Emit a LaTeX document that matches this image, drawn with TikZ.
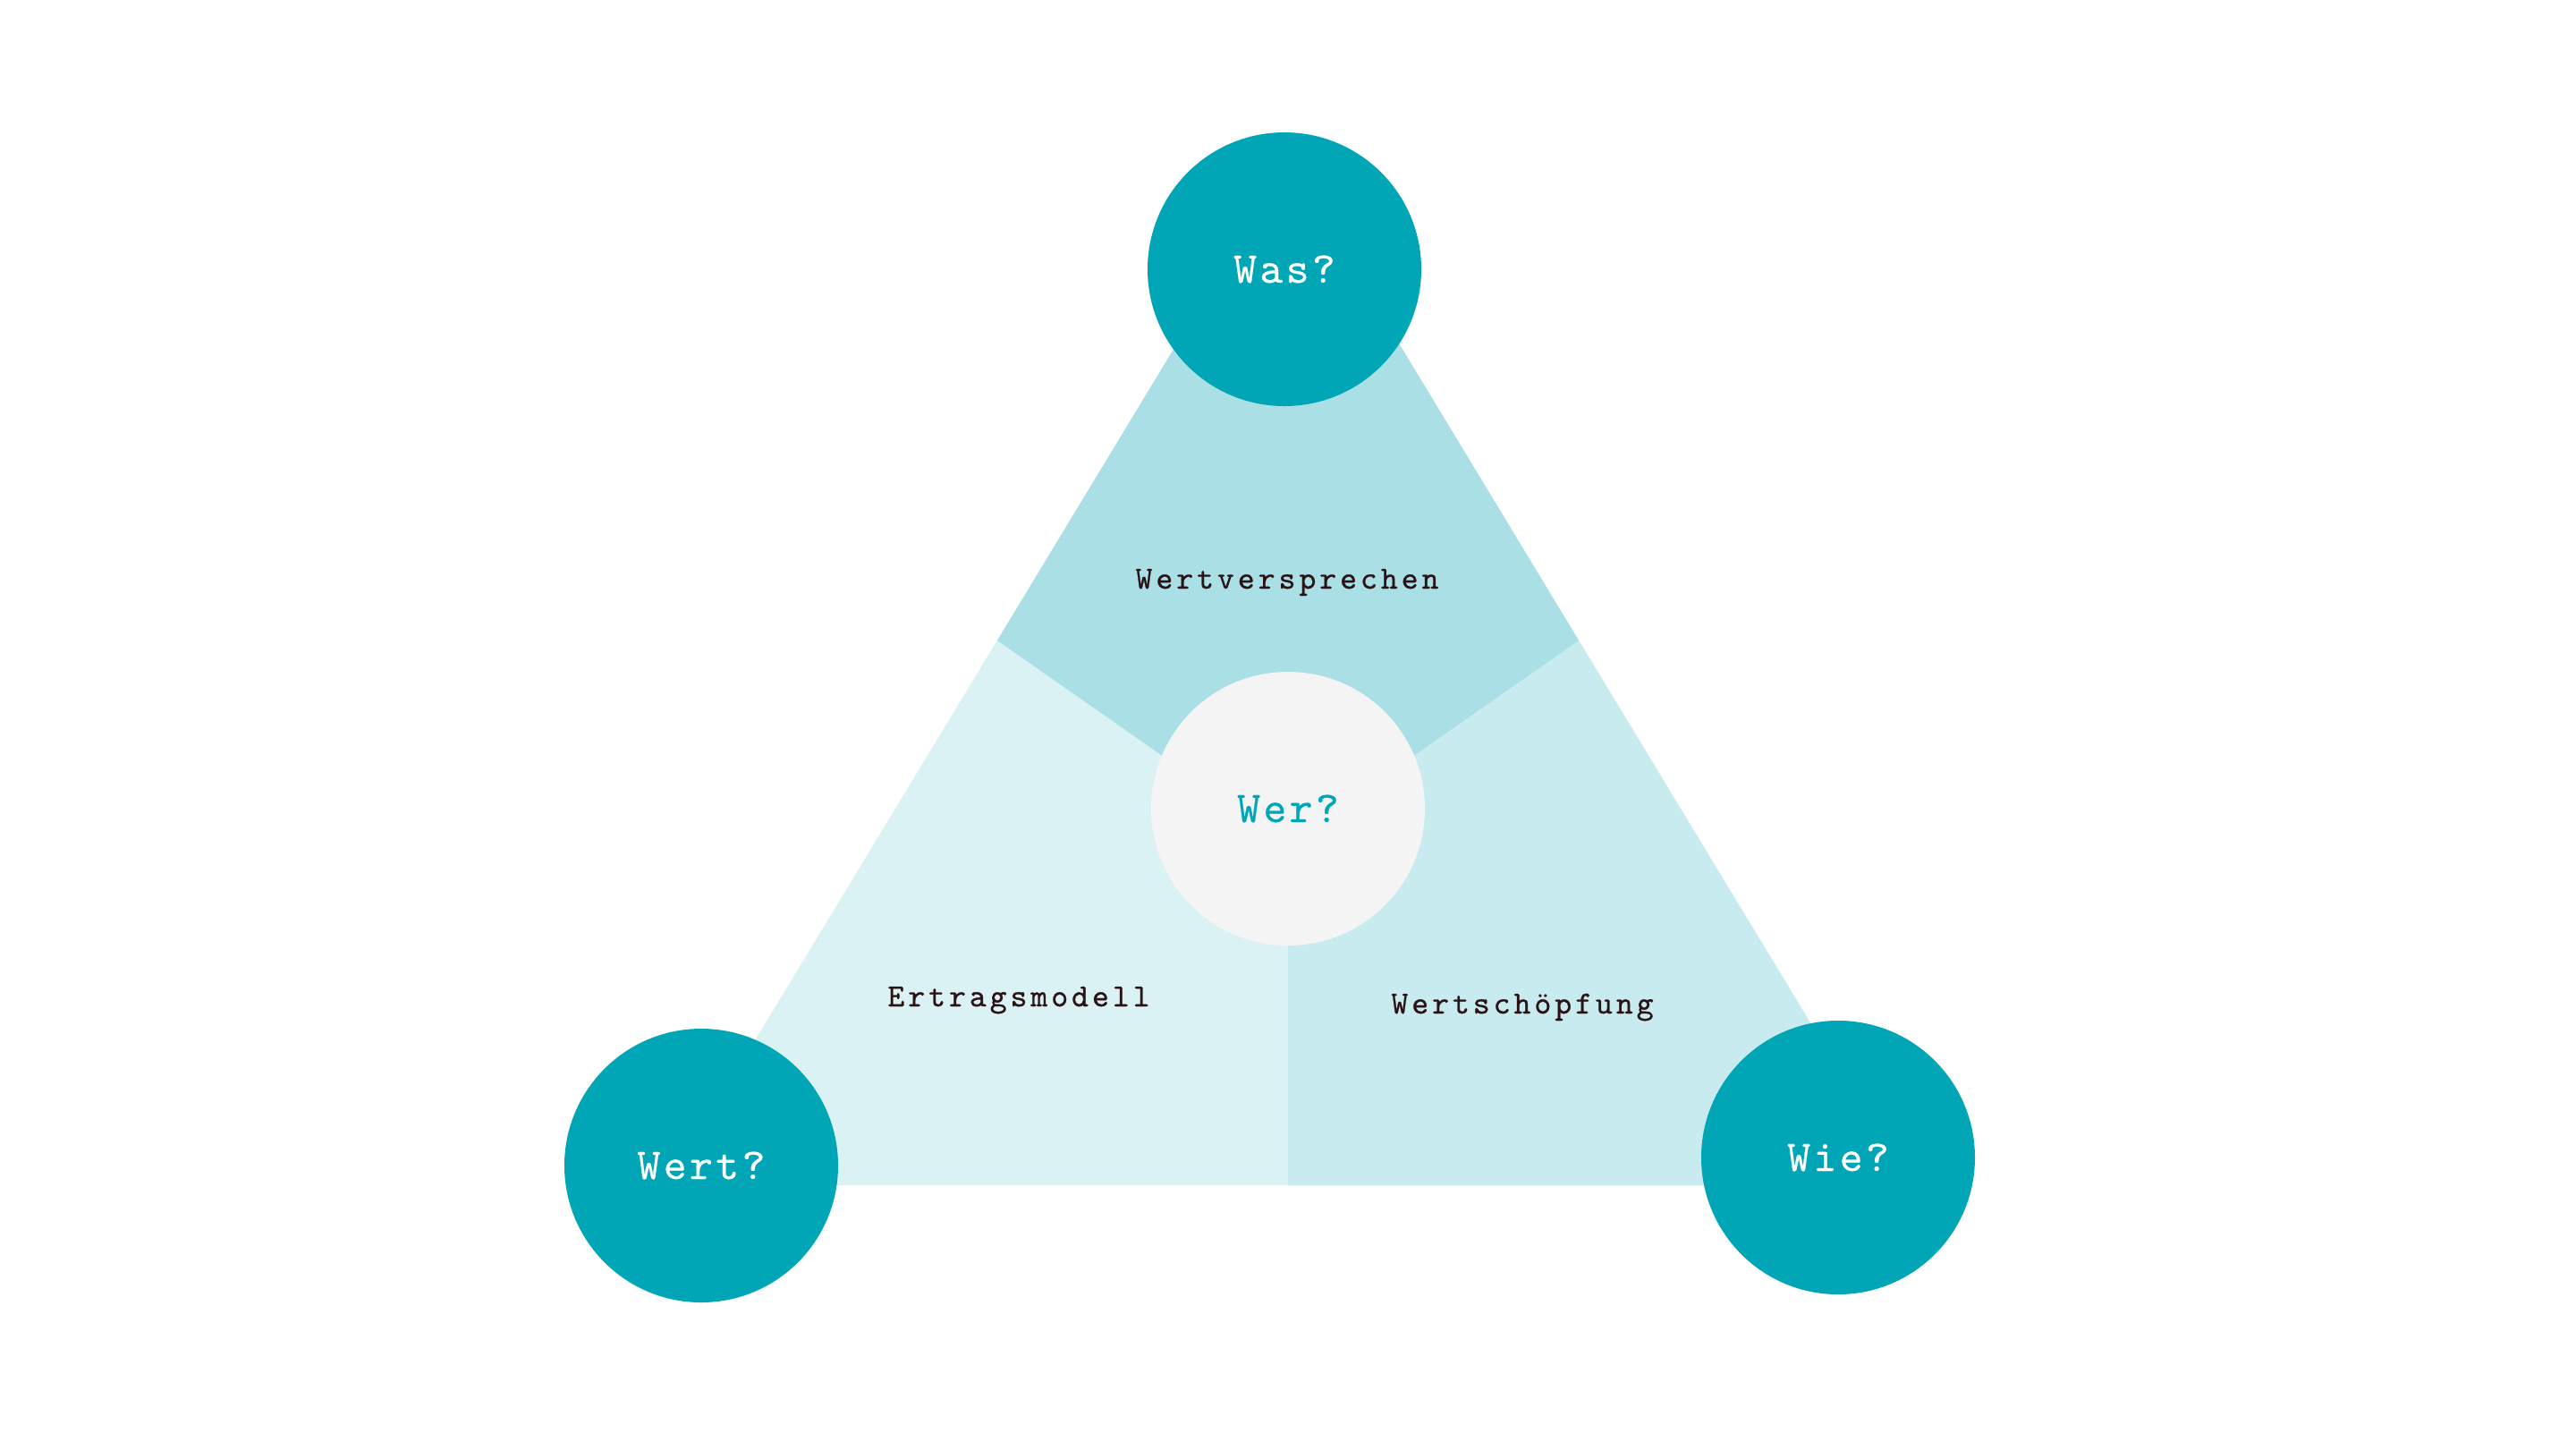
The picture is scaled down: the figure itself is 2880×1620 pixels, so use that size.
\documentclass[tikz,border=0pt]{standalone}
\usepackage{fontspec}
\newfontfamily\monoS{lmmono10-regular.otf}[LetterSpace=11,FakeBold=0.7]
\newfontfamily\monoB{lmmono10-regular.otf}[LetterSpace=7,FakeBold=0.5]
\definecolor{tealmain}{HTML}{00A6B6}
\definecolor{regtop}{HTML}{AADFE6}
\definecolor{regleft}{HTML}{DBF2F5}
\definecolor{regright}{HTML}{C7EBEE}
\definecolor{centerfill}{HTML}{F4F4F4}
\definecolor{labeltext}{HTML}{2A1215}
\begin{document}
\begin{tikzpicture}[x=0.25pt,y=-0.25pt,
  qcircle/.style={circle, fill=tealmain, minimum size=76.5pt, inner sep=0pt, text=white,
    font=\monoB\fontsize{12.3}{14}\selectfont},
  wercircle/.style={qcircle, fill=centerfill, text=tealmain},
  arealabel/.style={anchor=base, inner sep=0pt, text=labeltext,
    font=\monoS\fontsize{9}{11}\selectfont}]
\useasboundingbox (0,0) rectangle (2880,1620);
\fill[white] (0,0) rectangle (2880,1620);
% triangle corners and dividers
\coordinate (A) at (1440,179);
\coordinate (B) at (746,1325);
\coordinate (C) at (2134,1325);
\coordinate (L) at (1115,716);
\coordinate (R) at (1765,716);
\coordinate (G) at (1440,943);
\coordinate (M) at (1440,1325);
% regions
\fill[regleft] (A) -- (C) -- (B) -- cycle;
\fill[regright] (R) -- (C) -- (M) -- (G) -- cycle;
\fill[regtop] (A) -- (R) -- (G) -- (L) -- cycle;
% labels
\node[arealabel] (wv) at (1439,658) {Wertversprechen};
\node[arealabel] (em) at (1139,1125) {Ertragsmodell};
\node[arealabel] (ws) at (1702,1133) {Wertschöpfung};
% circles
\node[qcircle] (was) at (1436,301) {Was?};
\node[qcircle] (wert) at (784,1303) {Wert?};
\node[qcircle] (wie) at (2055,1294) {Wie?};
\node[wercircle] (wer) at (1440,904) {Wer?};
\end{tikzpicture}
\end{document}
